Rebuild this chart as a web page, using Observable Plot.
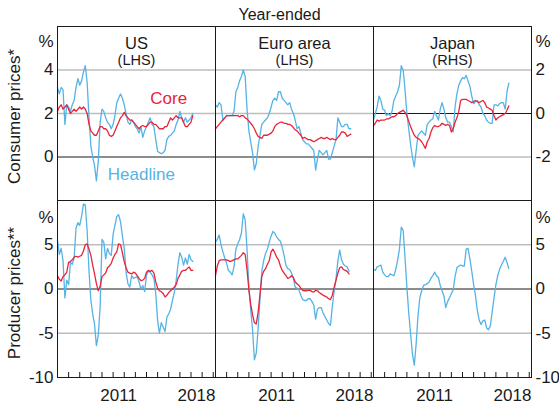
<!DOCTYPE html>
<html>
<head>
<meta charset="utf-8">
<script src="https://cdn.jsdelivr.net/npm/d3@7"></script>
<script src="https://cdn.jsdelivr.net/npm/@observablehq/plot@0.6"></script>
<style>
  body { margin: 0; background: #fff; }
  #chart { position: relative; width: 559px; height: 406px; overflow: hidden; background: #fff; }
  #chart svg { position: absolute; left: 0; top: 0; }
</style>
</head>
<body>
<div id="chart"></div>
<script>
// ---------- text ----------
const subtitle = "Year-ended";
const countries = ["US", "Euro area", "Japan"];
const sides = ["(LHS)", "(LHS)", "(RHS)"];
const rowTitles = ["Consumer prices*", "Producer prices**"];
const annotations = [
  {label: "Core", series: "core", date: "2016-01-01", value: 2.68},
  {label: "Headline", series: "headline", date: "2013-07-15", value: -0.8}
];

// ---------- axes ----------
const topTicksLHS = [0, 2, 4];
const topTicksRHS = [-2, 0, 2];
const bottomTicks = [-10, -5, 0, 5];
const topDomainLHS = [-2, 6];
const topDomainRHS = [-4, 4];
const bottomDomain = [-10, 10];
const topGridLHS = [2, 4];
const topGridRHS = [-2, 2];
const bottomGrid = [-5, 5];
const yearTickLabels = ["2011", "2018"];
const firstYear = 2006, lastYearTick = 2020;
const xStart = "2006-01-01", xEnd = "2020-03-15";

// ---------- dates (every second month, Jan 2006 to Mar 2018) ----------
const firstObs = "2006-01-01", lastObs = "2018-03-01";
const dates = d3.utcMonth.range(new Date(firstObs), d3.utcMonth.offset(new Date(lastObs), 1), 2);

// ---------- consumer prices, year-ended % ----------
const usCpiHeadline = [
  3.2, 2.9, 3.2, 3.1, 1.5, 2.4,
  2.3, 2.1, 2.4, 2.6, 3.2, 3.6,
  3.3, 3.5, 3.9, 4.2, 3.4, 1.8,
  0.5, 0.0, -0.4, -1.1, -0.2, 1.6,
  2.2, 2.1, 1.8, 1.6, 1.5, 1.3,
  1.5, 1.9, 2.5, 2.7, 2.9, 2.7,
  2.4, 2.0, 1.6, 1.5, 1.7, 1.6,
  1.4, 1.3, 1.1, 1.4, 0.9, 1.2,
  1.4, 1.6, 1.8, 1.5, 1.4, 0.8,
  0.25, 0.2, 0.15, 0.2, 0.3, 0.8,
  0.95, 1.0, 1.1, 1.2, 1.5, 1.7,
  2.1, 1.8, 1.6, 1.8, 1.6, 1.7,
  1.8, 2.0];
const usCpiCore = [
  2.1, 2.3, 2.4, 2.2, 2.3, 2.4,
  2.2, 2.0, 2.1, 2.2, 2.1, 2.2,
  2.3, 2.2, 2.3, 2.2, 2.0, 1.5,
  1.2, 1.1, 1.0, 1.0, 1.2, 1.4,
  1.4, 1.3, 1.3, 1.2, 1.0, 0.95,
  1.0, 1.2, 1.4, 1.6, 1.8, 1.9,
  2.05, 1.9, 1.8, 1.7, 1.7, 1.6,
  1.5, 1.4, 1.3, 1.4, 1.45, 1.4,
  1.4, 1.5, 1.6, 1.6, 1.5, 1.5,
  1.4, 1.3, 1.3, 1.3, 1.4, 1.4,
  1.6, 1.8, 1.7, 1.8, 1.9, 1.8,
  1.8, 1.8, 1.6, 1.4, 1.4, 1.5,
  1.6, 1.9];
const euCpiHeadline = [
  2.4, 2.3, 2.5, 2.4, 1.7, 1.8,
  1.9, 1.9, 1.9, 1.9, 2.1, 3.0,
  3.2, 3.5, 3.7, 4.0, 3.7, 2.2,
  1.2, 0.7, 0.2, -0.6, -0.3, 0.5,
  1.0, 1.5, 1.6, 1.7, 1.8, 2.0,
  2.3, 2.6, 2.7, 2.6, 3.0, 3.0,
  2.7, 2.6, 2.5, 2.4, 2.5, 2.2,
  2.0, 1.7, 1.3, 1.4, 1.1, 0.8,
  0.7, 0.6, 0.6, 0.5, 0.4, 0.3,
  -0.6, -0.1, 0.3, 0.2, 0.1, 0.2,
  0.3, -0.1, -0.1, 0.2, 0.5, 0.8,
  1.8, 1.6, 1.4, 1.4, 1.5, 1.5,
  1.3, 1.3];
const euCpiCore = [
  1.3, 1.4, 1.5, 1.6, 1.7, 1.8,
  1.9, 1.9, 1.9, 1.9, 1.9, 1.9,
  1.9, 1.85, 1.9, 1.9, 1.8, 1.75,
  1.65, 1.55, 1.45, 1.3, 1.1, 0.95,
  0.9, 0.85, 1.0, 1.0, 1.0, 1.05,
  1.1, 1.2, 1.4, 1.5, 1.55, 1.6,
  1.6, 1.55, 1.55, 1.5, 1.5, 1.45,
  1.35, 1.25, 1.2, 1.1, 1.0, 0.85,
  0.9, 0.85, 0.8, 0.8, 0.75, 0.7,
  0.75, 0.8, 0.85, 0.9, 0.85, 0.85,
  0.9, 0.85, 0.8, 0.85, 0.8, 0.8,
  0.9, 1.0, 1.15, 1.15, 1.1, 0.95,
  1.0, 1.05];
const jpCpiHeadline = [
  -0.3, 0.0, 0.3, 0.8, 0.6, 0.2,
  0.15, -0.1, 0.0, -0.1, 0.1, 0.6,
  0.8, 1.0, 1.3, 2.2, 2.0, 1.1,
  0.0, -0.7, -1.4, -2.0, -2.45, -1.7,
  -1.0, -0.9, -0.8, -0.9, -1.0, -0.5,
  -0.4, -0.3, -0.25, 0.1, -0.1, -0.3,
  0.2, 0.5, 0.2, -0.2, -0.4, -0.4,
  -0.6, -0.85, 0.3, 0.9, 1.3, 1.5,
  1.65, 1.6, 1.75, 1.5, 1.25, 0.8,
  0.45, 0.55, 0.6, 0.4, 0.3, 0.0,
  -0.1, -0.3, -0.4, -0.45, -0.45, 0.4,
  0.4, 0.35, 0.45, 0.5, 0.5, 0.2,
  1.0, 1.4];
const jpCpiCore = [
  -0.55, -0.45, -0.3, -0.35, -0.3, -0.3,
  -0.3, -0.25, -0.25, -0.2, -0.15, -0.15,
  -0.1, 0.0, 0.05, 0.1, 0.15, 0.05,
  -0.1, -0.35, -0.6, -0.8, -1.0, -1.1,
  -1.15, -1.2, -1.3, -1.45, -1.6, -1.3,
  -1.15, -0.85, -0.65, -0.55, -0.6, -0.6,
  -0.55, -0.45, -0.5, -0.55, -0.5, -0.55,
  -0.85, -0.7, -0.4, -0.2, 0.1, 0.6,
  0.65, 0.65, 0.65, 0.6, 0.55, 0.5,
  0.55, 0.6, 0.55, 0.5, 0.55, 0.6,
  0.5, 0.3, 0.25, 0.2, 0.15, -0.1,
  -0.3, -0.2, -0.15, -0.1, -0.05, 0.0,
  0.15, 0.35];

// ---------- producer prices, year-ended % ----------
const usPpiHeadline = [
  5.5, 3.9, 4.6, 3.2, -1.0, 1.0,
  0.5, 3.0, 2.8, 3.5, 6.9, 7.5,
  7.2, 8.2, 9.6, 9.5, 6.5, 2.0,
  -1.3, -2.8, -4.0, -6.4, -5.2, -2.0,
  5.6, 5.3, 3.4, 4.6, 4.0, 3.8,
  6.2, 7.2, 8.2, 8.4, 7.6, 6.0,
  4.6, 1.9, 0.6, 0.2, 1.5, 1.2,
  1.3, 1.4, 0.8, 0.0, 0.4, -0.3,
  1.6, 2.0, 1.9, 1.6, 1.2, -0.5,
  -3.6, -5.0, -3.8, -4.3, -4.8, -3.2,
  -2.8, -2.3, -1.3, -0.4, 1.0, 2.8,
  4.1, 3.6, 2.7, 3.5, 2.8, 3.9,
  3.3, 3.1];
const usPpiCore = [
  1.5, 1.1, 0.9, 1.4, 1.6, 1.9,
  3.0, 3.1, 3.3, 3.6, 3.7, 3.6,
  3.7, 3.8, 4.3, 5.0, 5.1, 4.5,
  3.8, 2.7, 1.7, 0.6, -0.2, 0.3,
  1.4, 1.6, 1.8, 2.4, 2.6, 2.9,
  3.5, 3.9, 4.2, 5.1, 5.0, 4.1,
  3.1, 2.4, 1.9, 1.8, 1.7, 1.9,
  1.8, 1.5, 1.2, 0.95, 1.0, 1.2,
  1.9, 2.1, 2.0, 2.1, 1.8, 0.8,
  0.1, -0.2, -0.3, -0.5, -0.9, -0.7,
  -0.4, -0.2, 0.0, 0.2, 0.5, 1.2,
  1.6, 2.0, 2.1, 2.1, 2.3, 2.5,
  2.1, 2.1];
const euPpiHeadline = [
  5.3, 5.6, 6.1, 5.0, 4.2, 3.5,
  2.9, 2.1, 1.9, 1.6, 2.5, 4.5,
  5.1, 5.6, 6.3, 8.5, 7.8, 4.5,
  0.2, -2.3, -4.6, -8.0, -7.2, -4.4,
  -1.0, 2.0, 3.2, 4.0, 4.5, 5.3,
  6.0, 6.5, 6.3, 5.9, 5.6, 5.4,
  4.7, 3.8, 2.7, 2.3, 2.2, 1.8,
  1.2, 0.2, 0.1, -0.1, -0.7, -1.2,
  -1.3, -1.3, -1.1, -1.1, -1.4, -1.8,
  -3.4, -2.3, -2.1, -2.1, -2.7, -3.1,
  -3.5, -3.9, -4.1, -2.0, -0.2, 1.2,
  3.2, 4.4, 3.3, 2.8, 2.6, 2.5,
  2.0, null];
const euPpiCore = [
  1.5, 2.6, 3.2, 3.3, 3.3, 3.3,
  3.3, 3.2, 3.1, 3.2, 3.3, 3.4,
  3.4, 3.6, 3.8, 4.1, 3.9, 2.2,
  -0.1, -1.7, -2.9, -3.8, -3.95, -2.6,
  -0.6, 1.4, 2.0, 2.3, 2.8, 3.2,
  4.2, 4.5, 4.1, 3.6, 3.3, 2.6,
  2.1, 1.8, 1.5, 1.2, 1.3, 1.5,
  1.3, 0.8, 0.6, 0.4, 0.1, -0.15,
  -0.2, -0.2, -0.15, -0.15, -0.3, -0.35,
  -0.15, -0.2, -0.4, -0.55, -0.7, -0.8,
  -0.9, -1.1, -1.2, -0.7, 0.2, 1.0,
  1.8, 2.4, 2.5, 2.2, 2.1, 2.0,
  1.7, null];
const jpPpiHeadline = [
  2.2, 2.1, 2.5, 2.6, 2.7, 1.9,
  1.6, 1.4, 1.4, 1.7, 1.6, 1.5,
  2.2, 3.2, 4.5, 7.0, 6.6, 3.5,
  0.2, -2.6, -5.0, -7.3, -8.6, -6.2,
  -3.0, -1.0, -0.2, 0.4, 0.5, 0.6,
  0.8, 1.2, 1.5, 1.9, 1.5, 1.3,
  0.4, -0.2, -0.8, -2.1, -1.4, -1.0,
  -0.5, -0.1, 1.4, 2.4, 2.6, 2.7,
  2.6, 2.6, 4.5, 4.6, 3.4, 2.0,
  0.5, -0.7, -2.4, -3.5, -4.0, -3.6,
  -3.5, -4.4, -4.6, -4.2, -2.6, -1.0,
  0.5, 1.5, 2.2, 2.7, 3.1, 3.6,
  3.0, 2.3];

// ---------- styling / layout ----------
const W = 559, H = 406;
const FONT = '"Liberation Sans", Arial, Helvetica, sans-serif';
const INK = "#1a1a1a";
const GRID = "#bdbdbd";
const BLUE = "#55b3e6";
const RED = "#e8243c";
const colX = [57, 215, 373, 531];
const rowY = [26, 200, 377];

const toSeries = arr => dates.map((date, i) => ({date, value: arr[i]}));
const fmt = d => String(d);
const xDomain = [new Date(xStart), new Date(xEnd)];
const yearTicks = d3.range(firstYear, lastYearTick + 1).map(y => new Date(Date.UTC(y, 0, 1)));
const yearLabelDates = yearTickLabels.map(y => new Date(`${y}-07-01`));

const panels = [
  {row: 0, col: 0, domain: topDomainLHS, ticks: topTicksLHS, grid: topGridLHS, headline: usCpiHeadline, core: usCpiCore},
  {row: 0, col: 1, domain: topDomainLHS, ticks: topTicksLHS, grid: topGridLHS, headline: euCpiHeadline, core: euCpiCore},
  {row: 0, col: 2, domain: topDomainRHS, ticks: topTicksRHS, grid: topGridRHS, headline: jpCpiHeadline, core: jpCpiCore},
  {row: 1, col: 0, domain: bottomDomain, ticks: bottomTicks, grid: bottomGrid, headline: usPpiHeadline, core: usPpiCore},
  {row: 1, col: 1, domain: bottomDomain, ticks: bottomTicks, grid: bottomGrid, headline: euPpiHeadline, core: euPpiCore},
  {row: 1, col: 2, domain: bottomDomain, ticks: bottomTicks, grid: bottomGrid, headline: jpPpiHeadline, core: null}
];

const chart = document.getElementById("chart");

for (const p of panels) {
  const marks = [
    Plot.ruleY(p.grid, {stroke: GRID, strokeWidth: 1.3}),
    Plot.ruleY([0], {stroke: INK, strokeWidth: 1}),
    Plot.line(toSeries(p.headline), {x: "date", y: "value", stroke: BLUE, strokeWidth: 1.3})
  ];
  if (p.core) marks.push(Plot.line(toSeries(p.core), {x: "date", y: "value", stroke: RED, strokeWidth: 1.3}));
  marks.push(Plot.frame({stroke: INK, strokeWidth: 1}));

  if (p.row === 0) {
    marks.push(Plot.text([countries[p.col]], {text: d => d, frameAnchor: "top", dy: 11.2, fontSize: 16.5, fill: INK}));
    marks.push(Plot.text([sides[p.col]], {text: d => d, frameAnchor: "top", dy: 28.2, fontSize: 14.5, fill: INK}));
  }
  if (p.row === 0 && p.col === 0) {
    marks.push(Plot.text(annotations, {
      x: d => new Date(d.date), y: "value", text: "label",
      fill: d => d.series === "core" ? RED : BLUE, fontSize: 17
    }));
  }
  const pctDy = p.row === 0 ? 8.5 : 10;
  if (p.col === 0) {
    marks.push(Plot.axisY(p.ticks, {anchor: "left", tickSize: 0, tickPadding: 4, tickFormat: fmt, label: null, fontSize: 17, fill: INK}));
    marks.push(Plot.text(["%"], {text: d => d, frameAnchor: "top-left", textAnchor: "end", dx: -4, dy: pctDy, fontSize: 17, fill: INK}));
  }
  if (p.col === 2) {
    marks.push(Plot.axisY(p.ticks, {anchor: "right", tickSize: 0, tickPadding: 4, tickFormat: fmt, label: null, fontSize: 17, fill: INK}));
    marks.push(Plot.text(["%"], {text: d => d, frameAnchor: "top-right", textAnchor: "start", dx: 4, dy: pctDy, fontSize: 17, fill: INK}));
  }
  if (p.row === 1) {
    marks.push(Plot.tickX(yearTicks, {x: d => d, stroke: INK, strokeWidth: 1, insetTop: 172}));
    marks.push(Plot.axisX(yearLabelDates, {anchor: "bottom", tickSize: 0, tickPadding: 11, tickFormat: d3.utcFormat("%Y"), label: null, fontSize: 17, fill: INK}));
  }

  const svg = Plot.plot({
    width: W, height: H,
    marginLeft: colX[p.col], marginRight: W - colX[p.col + 1],
    marginTop: rowY[p.row], marginBottom: H - rowY[p.row + 1],
    x: {type: "utc", domain: xDomain, axis: null, label: null},
    y: {domain: p.domain, axis: null, label: null},
    style: {background: "none", fontFamily: FONT, fontSize: "17px", color: INK, overflow: "visible"},
    marks
  });
  svg.style.position = "absolute";
  svg.style.left = "0px";
  svg.style.top = "0px";
  chart.appendChild(svg);
}

// figure-level labels
const overlay = d3.select(chart).append("svg")
  .attr("width", W).attr("height", H)
  .style("font-family", FONT)
  .style("pointer-events", "none");
overlay.append("text")
  .attr("x", W / 2).attr("y", 19.5)
  .attr("text-anchor", "middle").attr("font-size", 16).attr("fill", INK)
  .text(subtitle);
const rowCenters = [116.5, 293];
rowTitles.forEach((t, i) => {
  overlay.append("text")
    .attr("transform", `translate(19.5,${rowCenters[i]}) rotate(-90)`)
    .attr("text-anchor", "middle").attr("font-size", 17).attr("fill", INK)
    .text(t);
});
</script>
</body>
</html>
